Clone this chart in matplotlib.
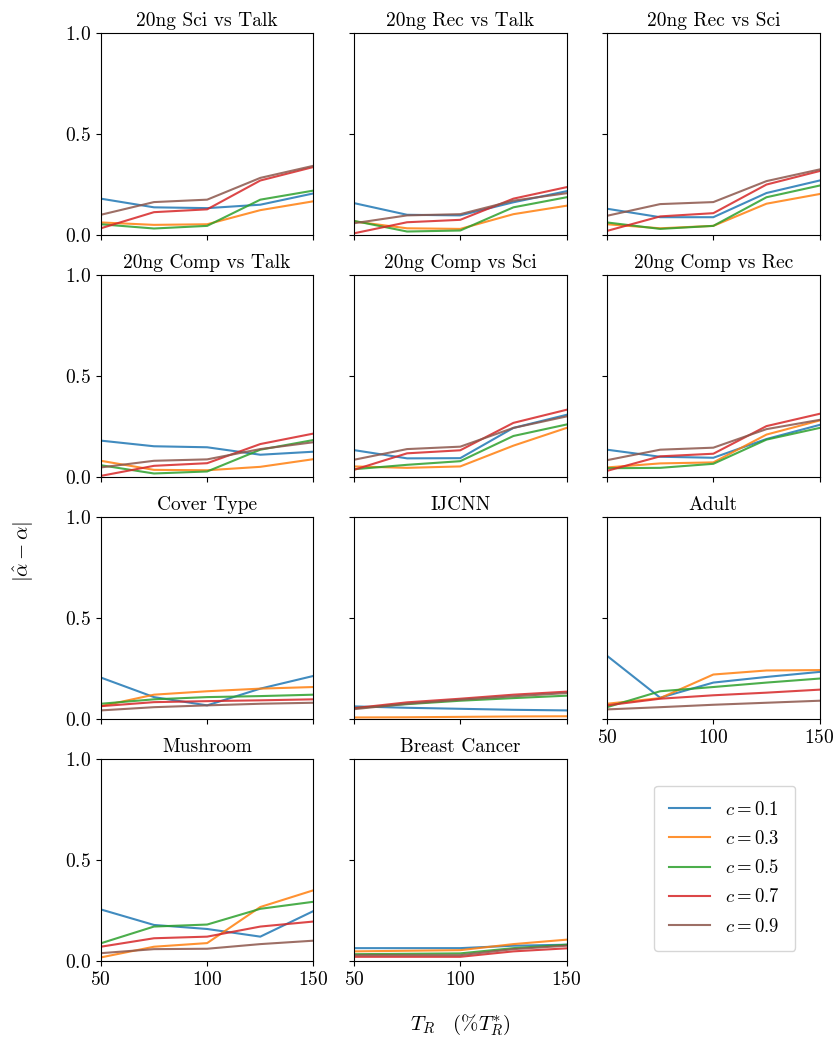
import numpy as np
import matplotlib
matplotlib.use("Agg")
import matplotlib.pyplot as plt

plt.rcParams["font.family"] = "serif"
plt.rcParams["font.serif"] = ["cmr10"]
plt.rcParams["mathtext.fontset"] = "cm"
plt.rcParams["axes.formatter.use_mathtext"] = True
plt.rcParams["axes.unicode_minus"] = False

# Training set size (% of T_R*)
t_r = [50, 75, 100, 125, 150]
c_values = [0.1, 0.3, 0.5, 0.7, 0.9]
line_colors = ["tab:blue", "tab:orange", "tab:green", "tab:red", "tab:brown"]
titles = [
    "20ng Sci vs Talk", "20ng Rec vs Talk", "20ng Rec vs Sci",
    "20ng Comp vs Talk", "20ng Comp vs Sci", "20ng Comp vs Rec",
    "Cover Type", "IJCNN", "Adult",
    "Mushroom", "Breast Cancer",
]

# |alpha_hat - alpha| per dataset, one row per c value
sci_talk = [
    [0.180, 0.137, 0.133, 0.150, 0.206],
    [0.062, 0.050, 0.053, 0.123, 0.167],
    [0.053, 0.032, 0.045, 0.175, 0.220],
    [0.033, 0.113, 0.127, 0.270, 0.337],
    [0.100, 0.163, 0.175, 0.283, 0.343],
]
rec_talk = [
    [0.158, 0.100, 0.097, 0.162, 0.217],
    [0.067, 0.033, 0.030, 0.103, 0.145],
    [0.070, 0.017, 0.022, 0.137, 0.187],
    [0.008, 0.063, 0.075, 0.180, 0.237],
    [0.058, 0.097, 0.103, 0.170, 0.207],
]
rec_sci = [
    [0.130, 0.088, 0.088, 0.208, 0.270],
    [0.053, 0.033, 0.045, 0.155, 0.203],
    [0.062, 0.030, 0.045, 0.187, 0.245],
    [0.020, 0.092, 0.108, 0.250, 0.317],
    [0.095, 0.153, 0.163, 0.267, 0.325],
]
comp_talk = [
    [0.180, 0.152, 0.147, 0.110, 0.125],
    [0.080, 0.035, 0.033, 0.050, 0.088],
    [0.058, 0.017, 0.027, 0.135, 0.183],
    [0.005, 0.055, 0.068, 0.163, 0.215],
    [0.047, 0.080, 0.087, 0.138, 0.172],
]
comp_sci = [
    [0.133, 0.092, 0.093, 0.243, 0.308],
    [0.052, 0.045, 0.052, 0.155, 0.243],
    [0.038, 0.060, 0.078, 0.203, 0.260],
    [0.035, 0.117, 0.132, 0.268, 0.333],
    [0.085, 0.138, 0.150, 0.243, 0.300],
]
comp_rec = [
    [0.135, 0.100, 0.095, 0.188, 0.258],
    [0.047, 0.067, 0.072, 0.210, 0.280],
    [0.043, 0.045, 0.065, 0.185, 0.243],
    [0.030, 0.102, 0.115, 0.252, 0.313],
    [0.083, 0.135, 0.145, 0.237, 0.283],
]
cover_type = [
    [0.205, 0.108, 0.067, 0.150, 0.213],
    [0.063, 0.120, 0.137, 0.150, 0.158],
    [0.075, 0.097, 0.108, 0.113, 0.120],
    [0.063, 0.083, 0.088, 0.092, 0.097],
    [0.042, 0.058, 0.067, 0.075, 0.080],
]
ijcnn = [
    [0.062, 0.055, 0.050, 0.045, 0.042],
    [0.007, 0.008, 0.010, 0.012, 0.013],
    [0.053, 0.073, 0.090, 0.103, 0.115],
    [0.053, 0.082, 0.100, 0.120, 0.135],
    [0.048, 0.075, 0.095, 0.112, 0.128],
]
adult = [
    [0.313, 0.105, 0.180, 0.208, 0.233],
    [0.075, 0.103, 0.220, 0.240, 0.242],
    [0.058, 0.137, 0.158, 0.180, 0.200],
    [0.067, 0.100, 0.117, 0.130, 0.145],
    [0.047, 0.058, 0.070, 0.080, 0.090],
]
mushroom = [
    [0.255, 0.178, 0.158, 0.120, 0.247],
    [0.017, 0.070, 0.088, 0.267, 0.350],
    [0.087, 0.170, 0.180, 0.258, 0.293],
    [0.070, 0.112, 0.120, 0.170, 0.195],
    [0.038, 0.058, 0.060, 0.083, 0.100],
]
breast_cancer = [
    [0.063, 0.063, 0.063, 0.075, 0.080],
    [0.047, 0.050, 0.053, 0.083, 0.105],
    [0.033, 0.035, 0.037, 0.063, 0.080],
    [0.020, 0.020, 0.020, 0.047, 0.062],
    [0.028, 0.028, 0.028, 0.058, 0.075],
]

datasets = [sci_talk, rec_talk, rec_sci, comp_talk, comp_sci, comp_rec,
            cover_type, ijcnn, adult, mushroom, breast_cancer]

fig, axes = plt.subplots(4, 3, sharex=True, sharey=True, figsize=(8.33, 10.41), dpi=100)
fig.subplots_adjust(left=0.121, right=0.984, top=0.968, bottom=0.077,
                    wspace=0.19, hspace=0.2)

for k, ax in enumerate(axes.flat):
    if k >= len(datasets):
        ax.set_visible(False)
        continue
    for c, col, vals in zip(c_values, line_colors, datasets[k]):
        ax.plot(t_r, vals, color=col, lw=1.5, alpha=0.85, label=f"$c = {c}$")
    ax.set_title(titles[k], fontsize=14, pad=5)
    ax.set_xlim(50, 150)
    ax.set_ylim(0, 1)
    ax.set_xticks([50, 100, 150])
    ax.set_yticks([0, 0.5, 1.0])
    ax.tick_params(labelsize=14)

# Adult panel sits above the empty slot, so it keeps its x tick labels
axes[2, 2].tick_params(labelbottom=True)

handles, labels = axes[0, 0].get_legend_handles_labels()
fig.legend(handles, labels, loc="center", bbox_to_anchor=(0.870, 0.166),
           fontsize=13.5, handlelength=2.2, labelspacing=0.6, borderpad=0.8)

fig.text(0.028, 0.47, r"$|\hat{\alpha} - \alpha|$", rotation=90, fontsize=15,
         ha="center", va="center")
fig.text(0.553, 0.016, r"$T_R \quad (\%T_R^{*})$", fontsize=15,
         ha="center", va="center")

fig.savefig("out.png", dpi=100)
